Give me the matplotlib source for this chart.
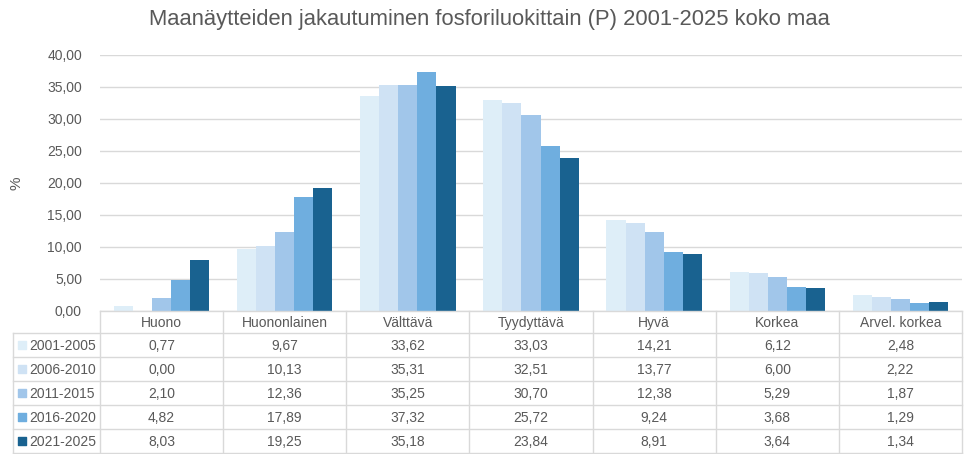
import numpy as np
import matplotlib.pyplot as plt

# luokat ja jaksot
luokat = ['Huono', 'Huononlainen', 'Välttävä', 'Tyydyttävä', 'Hyvä', 'Korkea', 'Arvel. korkea']
jaksot = ['2001-2005', '2006-2010', '2011-2015', '2016-2020', '2021-2025']
p_2001 = [0.77, 9.67, 33.62, 33.03, 14.21, 6.12, 2.48]
p_2006 = [0.00, 10.13, 35.31, 32.51, 13.77, 6.00, 2.22]
p_2011 = [2.10, 12.36, 35.25, 30.70, 12.38, 5.29, 1.87]
p_2016 = [4.82, 17.89, 37.32, 25.72, 9.24, 3.68, 1.29]
p_2021 = [8.03, 19.25, 35.18, 23.84, 8.91, 3.64, 1.34]
sarjat = [p_2001, p_2006, p_2011, p_2016, p_2021]
varit = ['#DEEEF8', '#CFE2F4', '#A1C6EA', '#6FAEDF', '#196290']

harmaa = '#595959'
viiva = '#D9D9D9'
plt.rcParams['font.family'] = ['Liberation Sans', 'DejaVu Sans']

W, H = 974, 454
fig = plt.figure(figsize=(W / 100, H / 100), dpi=100)

# kuvaajan alue pikseleinä
x0, x1 = 100, 962
y_top, y_base = 55, 311
ax = fig.add_axes([x0 / W, 1 - y_base / H, (x1 - x0) / W, (y_base - y_top) / H])

n = len(luokat)
x = np.arange(n)
lev = 0.155
for i, (s, c) in enumerate(zip(sarjat, varit)):
    ax.bar(x + (i - 2) * lev, s, width=lev, color=c, zorder=3)

ax.set_xlim(-0.5, n - 0.5)
ax.set_ylim(0, 40)
ax.set_yticks(np.arange(0, 41, 5))
ax.set_yticklabels([f'{v:.2f}'.replace('.', ',') for v in np.arange(0, 41, 5)])
ax.tick_params(axis='y', length=0, labelsize=10, colors=harmaa, pad=13)
ax.set_xticks([])
ax.grid(axis='y', color=viiva, linewidth=1, zorder=0)
for s in ax.spines.values():
    s.set_visible(False)
ax.set_ylabel('%', fontsize=11, color=harmaa, labelpad=17)

fig.text(0.503, 1 - 20 / H, 'Maanäytteiden jakautuminen fosforiluokittain (P) 2001-2025 koko maa',
         ha='center', va='center', fontsize=15.8, color=harmaa)

# taulukko kuvaajan alle
tx_left = 13
yksikko = (x1 - x0) / n
xl = -0.5 - (x0 - tx_left) / yksikko
otsake = 22
rivi = 24
t_h = otsake + rivi * len(jaksot)
tab = fig.add_axes([tx_left / W, 1 - (y_base + t_h) / H, (x1 - tx_left) / W, t_h / H])
tab.set_xlim(xl, n - 0.5)
tab.set_ylim(t_h, 0)
tab.axis('off')

lw = 1
# pystyviivat
for k in range(n + 1):
    tab.plot([k - 0.5, k - 0.5], [0, t_h], color=viiva, lw=lw, clip_on=False)
tab.plot([xl, xl], [otsake, t_h], color=viiva, lw=lw, clip_on=False)
# vaakaviivat
tab.plot([-0.5, n - 0.5], [0, 0], color=viiva, lw=lw, clip_on=False)
for r in range(len(jaksot) + 1):
    yy = otsake + r * rivi
    tab.plot([xl, n - 0.5], [yy, yy], color=viiva, lw=lw, clip_on=False)

for k, nimi in enumerate(luokat):
    tab.text(k, otsake / 2 + 1, nimi, ha='center', va='center', fontsize=10, color=harmaa)

for r, (jakso, s, c) in enumerate(zip(jaksot, sarjat, varit)):
    yc = otsake + r * rivi + rivi / 2 + 1
    tab.scatter([xl + 9 / yksikko], [yc - 1], marker='s', s=40, color=c, clip_on=False)
    tab.text(xl + 16 / yksikko, yc, jakso, ha='left', va='center', fontsize=10, color=harmaa)
    for k, v in enumerate(s):
        tab.text(k, yc, f'{v:.2f}'.replace('.', ','), ha='center', va='center',
                 fontsize=10, color=harmaa)

fig.savefig('out.png', dpi=100)
